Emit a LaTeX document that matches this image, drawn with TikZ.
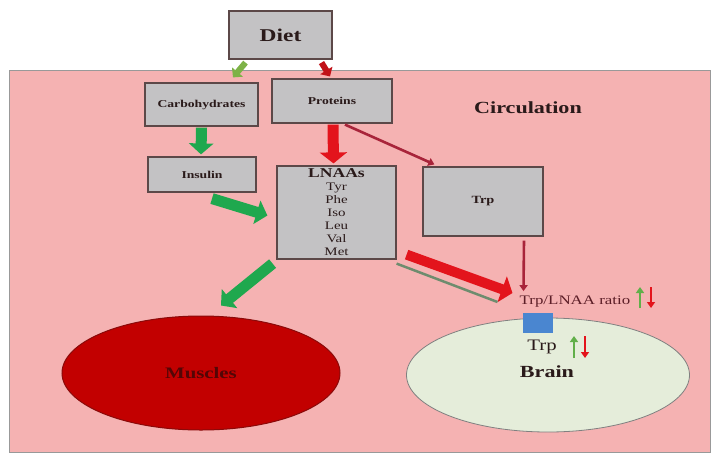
\documentclass[tikz,border=0pt]{standalone}
\usepackage{fontspec}
\setmainfont[FakeStretch=1.3]{Liberation Serif}
\usetikzlibrary{arrows.meta,shapes.geometric,calc}
\definecolor{pinkbg}{HTML}{F5B2B2}
\definecolor{boxgray}{HTML}{C3C2C4}
\definecolor{boxedge}{HTML}{5C4848}
\definecolor{grn}{HTML}{1FA84E}
\definecolor{olv}{HTML}{7DB247}
\definecolor{rd}{HTML}{E3141C}
\definecolor{drd}{HTML}{A8243A}
\definecolor{musc}{HTML}{C20000}
\definecolor{muscedge}{HTML}{8A0A0A}
\definecolor{brainfill}{HTML}{E5EDDA}
\definecolor{blu}{HTML}{4A86D0}
\definecolor{txt}{HTML}{2A1A1A}
\definecolor{gline}{HTML}{6E8C6E}
\tikzset{
  gbox/.style={draw=boxedge,line width=1.2pt,fill=boxgray,inner sep=0pt,text=txt,align=center},
  fatgreen/.style={draw=grn,line width=11pt,-{Triangle[length=11pt,width=24pt]}},
  fatred/.style={draw=rd,line width=11pt,-{Triangle[length=11pt,width=27pt]}},
  thinred/.style={draw=drd,line width=2.6pt,-{Triangle[length=6pt,width=8pt]}},
  upg/.style={draw=olv!70!grn,line width=2.8pt,-{Triangle[length=6pt,width=8pt]}},
  dnr/.style={draw=rd,line width=2.8pt,-{Triangle[length=6pt,width=8pt]}},
}
\begin{document}
\begin{tikzpicture}[x=1pt,y=-1pt]
\useasboundingbox (0,0) rectangle (718,456);
\fill[white] (0,0) rectangle (718,456);
% circulation region
\draw[draw=gray!80,line width=1pt,fill=pinkbg] (9,70) rectangle (710,452);
\node[font=\bfseries\fontsize{17}{19}\selectfont,text=txt] (circ) at (528,108) {Circulation};
% boxes
\node[gbox,minimum width=103pt,minimum height=48pt,font=\bfseries\fontsize{18}{20}\selectfont] (diet) at (280.5,35) {Diet};
\node[gbox,minimum width=113pt,minimum height=43pt,font=\bfseries\fontsize{10.5}{12}\selectfont] (carb) at (201.5,104.5) {Carbohydrates};
\node[gbox,minimum width=120pt,minimum height=44pt,font=\bfseries\fontsize{10.5}{12}\selectfont] (prot) at (332,101) {Proteins};
\node[gbox,minimum width=108pt,minimum height=35pt,font=\bfseries\fontsize{10.5}{12}\selectfont] (ins) at (202,174.5) {Insulin};
\node[gbox,minimum width=119pt,minimum height=93pt,font=\fontsize{11.5}{13}\selectfont] (lnaa) at (336.5,212.5)
  {{\bfseries\fontsize{13.5}{13}\selectfont LNAAs}\\Tyr\\Phe\\Iso\\Leu\\Val\\Met};
\node[gbox,minimum width=120pt,minimum height=69pt,font=\bfseries\fontsize{11}{13}\selectfont] (trpbox) at (483,201.5) {Trp};
% organs
\node[ellipse,draw=muscedge,line width=1pt,fill=musc,minimum width=278pt,minimum height=114pt,
  font=\bfseries\fontsize{16}{18}\selectfont,text=muscedge!60!black] (musc) at (201,373) {Muscles};
\node[ellipse,draw=gray,line width=0.8pt,fill=brainfill,minimum width=283pt,minimum height=114pt] (brain) at (548,375) {};
\node[font=\bfseries\fontsize{17}{19}\selectfont,text=txt] (brainlbl) at (547,372) {Brain};
\node[font=\fontsize{16}{18}\selectfont,text=txt] (trpb) at (542,347) {Trp};
\node[fill=blu,minimum width=30pt,minimum height=20pt,inner sep=0pt] (bbb) at (538,323) {};
\node[font=\fontsize{13}{15}\selectfont,text=txt!60!drd,inner sep=0pt] (ratio) at (575,302) {Trp/LNAA ratio};
% small up/down arrows
\coordinate (ru1) at (640,308);
\coordinate (ru2) at (640,287);
\draw[upg] (ru1) -- (ru2);
\coordinate (rd1) at (651,287);
\coordinate (rd2) at (651,308);
\draw[dnr] (rd1) -- (rd2);
\coordinate (bu1) at (574,358);
\coordinate (bu2) at (574,336);
\draw[upg] (bu1) -- (bu2);
\coordinate (bd1) at (585,336);
\coordinate (bd2) at (585,358);
\draw[dnr] (bd1) -- (bd2);
% diet arrows
\draw[draw=olv,line width=6pt,-{Triangle[length=7pt,width=14pt]}] ([shift={(-35,3)}]diet.south) -- ([shift={(31.5,-5)}]carb.north);
\draw[draw=rd!85!black,line width=6pt,-{Triangle[length=7pt,width=14pt]}] ([shift={(41,3)}]diet.south) -- ([shift={(-2,-2)}]prot.north);
% main arrows
\draw[fatgreen] ([shift={(0,1)}]carb.south) -- ([shift={(-1,-2)}]ins.north);
\draw[fatred] ([shift={(1,1)}]prot.south) -- ([shift={(-3,-2)}]lnaa.north);
\draw[fatgreen] ([shift={(10,6)}]ins.south) -- ([shift={(-9,3)}]lnaa.west);
\draw[fatgreen] ([shift={(-124,4)}]lnaa.south east) -- ([shift={(20,-10)}]musc.north);
\draw[fatred,line width=10pt] ([shift={(10,-5)}]lnaa.south east) -- ([shift={(-7,-9)}]ratio.west);
\draw[draw=gline,line width=2.5pt] ([shift={(0,4)}]lnaa.south east) -- ([shift={(-22,0)}]ratio.west);
\draw[thinred] ([shift={(13,1)}]prot.south) -- ([shift={(12,-2)}]trpbox.north west);
\draw[thinred] ([shift={(41,4)}]trpbox.south) -- ([shift={(4,-5)}]ratio.north west);
\end{tikzpicture}
\end{document}
